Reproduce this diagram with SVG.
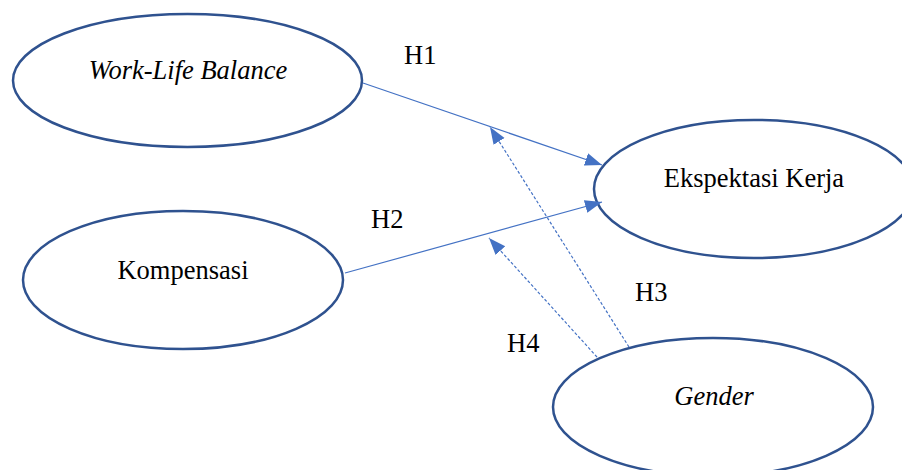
<svg xmlns="http://www.w3.org/2000/svg" width="902" height="470" viewBox="0 0 902 470">
<style>
.node{fill:#fff;stroke:#2F528F;stroke-width:2.5}
.lbl{font-size:26.5px;fill:#000;text-anchor:middle}
.it{font-style:italic}
.h{font-size:26.5px;fill:#000}
.c{stroke:#4472C4;stroke-width:1.2;fill:none}
.d{stroke-dasharray:3,2}
</style>
<defs>
<marker id="ah" markerUnits="userSpaceOnUse" markerWidth="18" markerHeight="14" refX="17" refY="6.5" orient="auto">
<path d="M0,0 L17,6.5 L0,13 z" fill="#4472C4"/>
</marker>
</defs>
<rect width="902" height="470" fill="#fff"/>
<g font-family="'Liberation Serif', 'Times New Roman', serif">
<g id="wlb">
<ellipse class="node" cx="187.5" cy="80.5" rx="174.5" ry="66.5"/>
<text class="lbl it" x="188" y="79">Work-Life Balance</text>
</g>
<g id="kompensasi">
<ellipse class="node" cx="183" cy="280" rx="160" ry="69"/>
<text class="lbl" x="183" y="279">Kompensasi</text>
</g>
<g id="ekspektasi">
<ellipse class="node" cx="754" cy="189" rx="160" ry="69"/>
<text class="lbl" x="754" y="187">Ekspektasi Kerja</text>
</g>
<g id="gender">
<ellipse class="node" cx="713" cy="407" rx="160" ry="69"/>
<text class="lbl it" x="714" y="405">Gender</text>
</g>
<g id="connectors">
<line class="c" x1="363" y1="83" x2="602" y2="165" marker-end="url(#ah)"/>
<line class="c" x1="345" y1="273" x2="602" y2="202" marker-end="url(#ah)"/>
<line class="c d" x1="629" y1="347" x2="490" y2="127" marker-end="url(#ah)"/>
<line class="c d" x1="597" y1="357" x2="489" y2="238" marker-end="url(#ah)"/>
</g>
<g id="labels">
<text class="h" x="404" y="64">H1</text>
<text class="h" x="371" y="228">H2</text>
<text class="h" x="635" y="301">H3</text>
<text class="h" x="507" y="352">H4</text>
</g>
</g>
</svg>
